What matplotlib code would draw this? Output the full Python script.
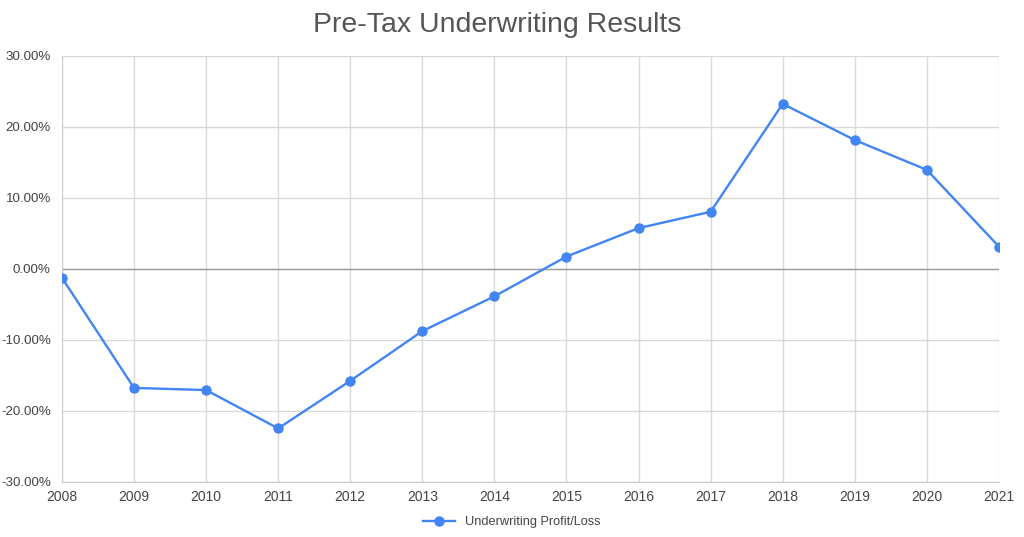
import matplotlib
matplotlib.use("Agg")
import matplotlib.pyplot as plt
from matplotlib.ticker import FuncFormatter

years = list(range(2008, 2022))
profit_loss = [-1.3, -16.8, -17.1, -22.5, -15.8, -8.8, -3.9, 1.7, 5.7, 8.0, 23.2, 18.1, 13.9, 3.1]
y_ticks = [-30, -20, -10, 0, 10, 20, 30]

plt.rcParams['font.family'] = ['Liberation Sans', 'DejaVu Sans']

fig = plt.figure(figsize=(10.24, 5.37), dpi=100)
ax = fig.add_axes([0.0605, 0.103, 0.915, 0.7936])

ax.plot(years, profit_loss, color='#4285f4', linewidth=1.7, marker='o',
        markersize=6.5, label='Underwriting Profit/Loss', zorder=3)

ax.set_xlim(years[0], years[-1])
ax.set_ylim(-30, 30)
ax.set_xticks(years)
ax.set_yticks(y_ticks)
ax.yaxis.set_major_formatter(FuncFormatter(lambda v, p: '%.2f%%' % v))

ax.grid(True, color='#d9d9d9', linewidth=1)
ax.axhline(0, color='#9e9e9e', linewidth=1, zorder=2)
for side in ['top', 'right']:
    ax.spines[side].set_visible(False)
for side in ['left', 'bottom']:
    ax.spines[side].set_color('#cccccc')
ax.tick_params(length=0, colors='#444444')
ax.tick_params(axis='y', pad=8, labelsize=9.6)
ax.tick_params(axis='x', pad=6, labelsize=10)

fig.suptitle('Pre-Tax Underwriting Results', x=0.486, y=0.978, fontsize=20.5, color='#555555')
fig.legend(loc='lower center', bbox_to_anchor=(0.5, -0.005), frameon=False,
           fontsize=9.2, labelcolor='#444444', handlelength=2.5)

fig.savefig('out.png', dpi=100)
